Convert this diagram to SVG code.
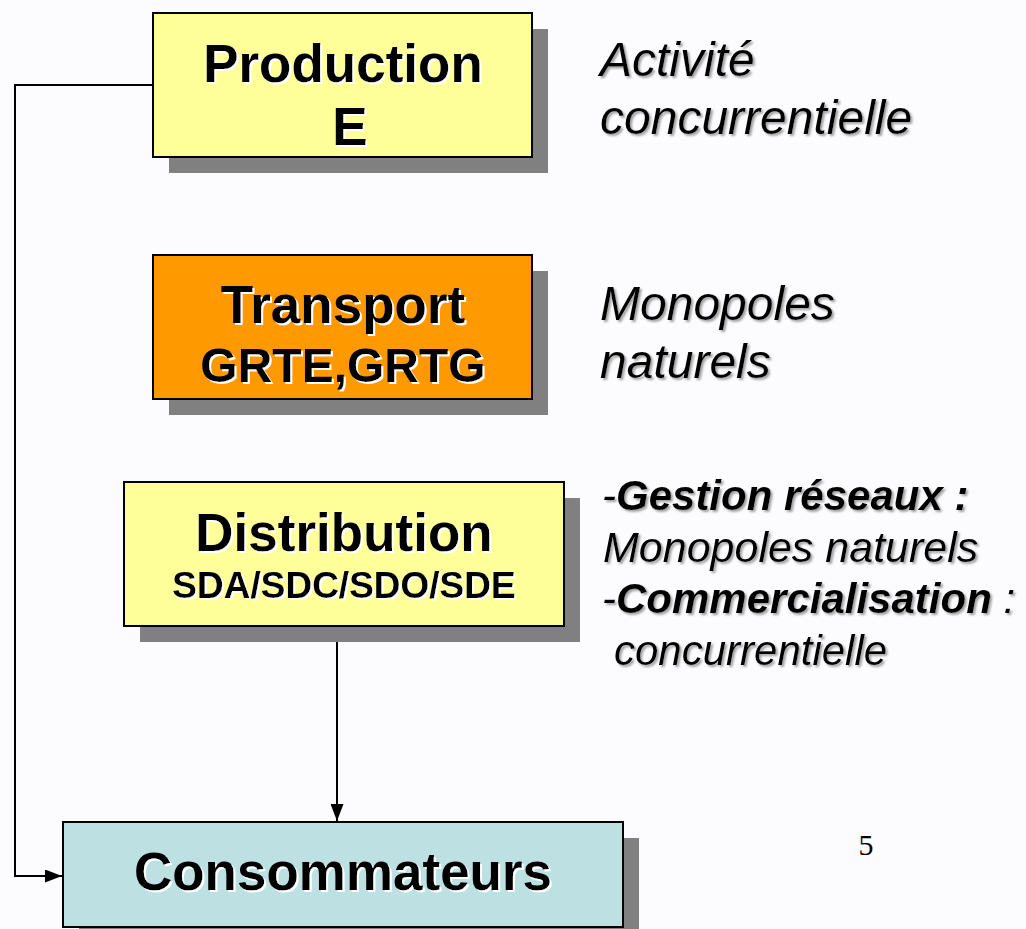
<svg xmlns="http://www.w3.org/2000/svg" width="1026" height="929" viewBox="0 0 1026 929">
<defs>
<style>
.box{stroke:#000;stroke-width:2}
.shadow{fill:#808080}
.bt{font-family:"Liberation Sans",Arial,sans-serif;font-weight:bold;fill:#000;text-anchor:middle}
.rt{font-family:"Liberation Sans",Arial,sans-serif;font-style:italic;fill:#000}
.conn{fill:none;stroke:#000;stroke-width:2}
</style>
<filter id="ws" x="-5%" y="-20%" width="110%" height="140%">
<feDropShadow dx="2" dy="2" stdDeviation="0.3" flood-color="#ffffff" flood-opacity="1"/>
</filter>
<filter id="gs" x="-5%" y="-20%" width="110%" height="140%">
<feDropShadow dx="2" dy="2" stdDeviation="1" flood-color="#8a8a8a" flood-opacity="0.8"/>
</filter>
<marker id="arr" markerWidth="17" markerHeight="13" refX="17" refY="6.5" orient="auto" markerUnits="userSpaceOnUse">
<path d="M0,0 L17,6.5 L0,13 Z" fill="#000"/>
</marker>
</defs>
<rect width="1026" height="929" fill="#fcfbfe"/>

<g id="connectors">
<path class="conn" d="M153,85 H15 V876 H62" marker-end="url(#arr)"/>
<path class="conn" d="M337,626 V821" marker-end="url(#arr)"/>
</g>

<g id="production">
<rect class="shadow" x="169" y="29" width="379" height="144"/>
<rect class="box" x="153" y="13" width="379" height="144" fill="#ffff99"/>
<g filter="url(#ws)">
<text class="bt" x="343" y="82" font-size="53">Production</text>
<text class="bt" x="350" y="145" font-size="53">E</text>
</g>
</g>

<g id="transport">
<rect class="shadow" x="169" y="271" width="379" height="144"/>
<rect class="box" x="153" y="255" width="379" height="144" fill="#ff9900"/>
<g filter="url(#ws)">
<text class="bt" x="343" y="323" font-size="53">Transport</text>
<text class="bt" x="343" y="382" font-size="48">GRTE,GRTG</text>
</g>
</g>

<g id="distribution">
<rect class="shadow" x="140" y="498" width="440" height="144"/>
<rect class="box" x="124" y="482" width="440" height="144" fill="#ffff99"/>
<g filter="url(#ws)">
<text class="bt" x="344" y="551" font-size="53">Distribution</text>
<text class="bt" x="344" y="598" font-size="37">SDA/SDC/SDO/SDE</text>
</g>
</g>

<g id="consommateurs">
<rect class="shadow" x="79" y="838" width="560" height="110"/>
<rect class="box" x="63" y="822" width="560" height="105" fill="#bde0e3"/>
<g filter="url(#ws)">
<text class="bt" x="343" y="890" font-size="53">Consommateurs</text>
</g>
</g>

<g id="labels" filter="url(#gs)">
<text class="rt" x="600" y="76" font-size="48">Activité</text>
<text class="rt" x="600" y="134" font-size="48">concurrentielle</text>
<text class="rt" x="600" y="320" font-size="48">Monopoles</text>
<text class="rt" x="600" y="378" font-size="48">naturels</text>
<text class="rt" x="602" y="510" font-size="42">-<tspan font-weight="bold">Gestion réseaux :</tspan></text>
<text class="rt" x="603" y="562" font-size="43">Monopoles naturels</text>
<text class="rt" x="602" y="613" font-size="42">-<tspan font-weight="bold">Commercialisation</tspan> :</text>
<text class="rt" x="614" y="665" font-size="42">concurrentielle</text>
</g>

<text id="page" x="866" y="855" font-family="Liberation Serif,Times New Roman,serif" font-size="30" text-anchor="middle">5</text>
</svg>
